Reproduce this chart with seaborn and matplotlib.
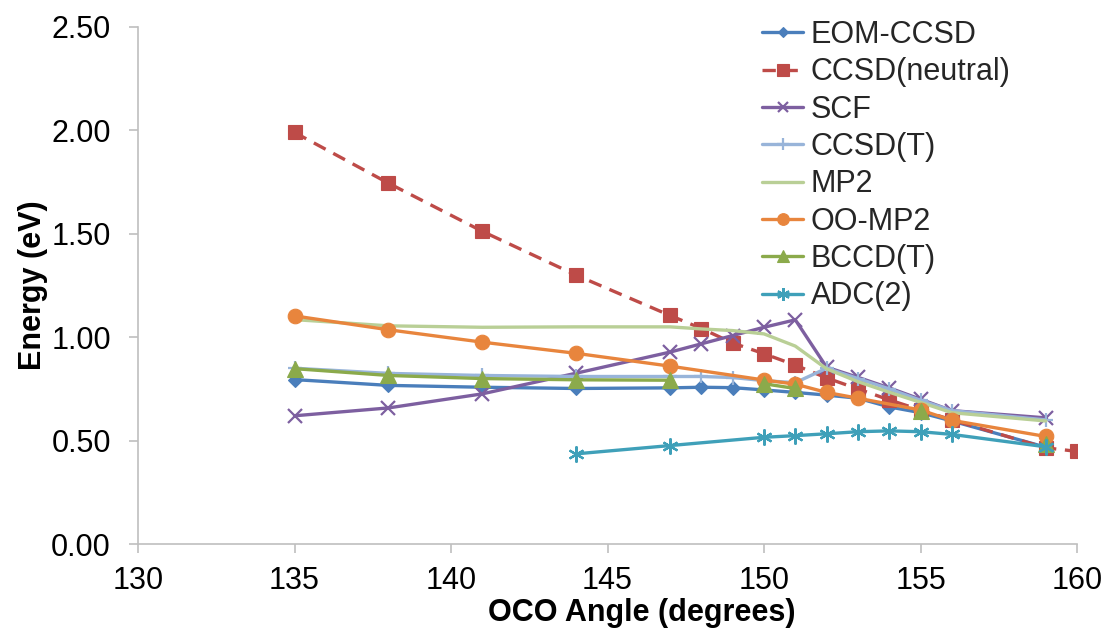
import numpy as np
import pandas as pd
import matplotlib
matplotlib.use("Agg")
import matplotlib.pyplot as plt
import seaborn as sns

# ---------------- data ----------------
series_names = ["EOM-CCSD", "CCSD(neutral)", "SCF", "CCSD(T)", "MP2", "OO-MP2", "BCCD(T)", "ADC(2)"]

eom_x = [135, 138, 141, 144, 147, 148, 149, 150, 151, 152, 153, 154, 155, 156, 159]
eom_y = [0.795, 0.767, 0.758, 0.752, 0.755, 0.758, 0.756, 0.745, 0.733, 0.720, 0.705, 0.663, 0.635, 0.595, 0.468]

ccsdn_x = [135, 138, 141, 144, 147, 148, 149, 150, 151, 152, 153, 154, 155, 156, 159, 160]
ccsdn_y = [1.990, 1.745, 1.512, 1.300, 1.105, 1.042, 0.972, 0.920, 0.865, 0.803, 0.750, 0.697, 0.648, 0.600, 0.465, 0.448]

scf_x = [135, 138, 141, 144, 147, 148, 149, 150, 151, 152, 153, 154, 155, 156, 159]
scf_y = [0.620, 0.658, 0.726, 0.826, 0.928, 0.968, 1.008, 1.048, 1.084, 0.855, 0.806, 0.755, 0.700, 0.645, 0.610]

ccsdt_x = [135, 138, 141, 144, 147, 148, 149, 150, 151, 152, 153, 154, 155, 156, 159]
ccsdt_y = [0.850, 0.825, 0.815, 0.810, 0.810, 0.810, 0.805, 0.790, 0.780, 0.850, 0.800, 0.750, 0.695, 0.645, 0.600]

mp2_x = [135, 138, 141, 144, 147, 148, 149, 150, 151, 152, 153, 154, 155, 156, 159]
mp2_y = [1.085, 1.055, 1.048, 1.050, 1.050, 1.040, 1.032, 1.016, 0.957, 0.847, 0.785, 0.734, 0.685, 0.635, 0.595]

oomp2_x = [135, 138, 141, 144, 147, 150, 151, 152, 153, 155, 156, 159]
oomp2_y = [1.103, 1.036, 0.976, 0.922, 0.860, 0.793, 0.773, 0.733, 0.705, 0.648, 0.598, 0.520]

# NaN marks a missing value (gap in the line)
bccdt_x = [135, 138, 141, 144, 147, 148, 150, 151, 152, 155, 156, 159]
bccdt_y = [0.848, 0.815, 0.800, 0.794, 0.792, np.nan, 0.775, 0.752, np.nan, 0.645, np.nan, 0.484]

adc2_x = [144, 147, 150, 151, 152, 153, 154, 155, 156, 159]
adc2_y = [0.436, 0.476, 0.516, 0.524, 0.533, 0.543, 0.547, 0.543, 0.530, 0.470]

x_ticks = [130, 135, 140, 145, 150, 155, 160]
y_ticks = [0.0, 0.5, 1.0, 1.5, 2.0, 2.5]

data = {
    "EOM-CCSD": (eom_x, eom_y),
    "CCSD(neutral)": (ccsdn_x, ccsdn_y),
    "SCF": (scf_x, scf_y),
    "CCSD(T)": (ccsdt_x, ccsdt_y),
    "MP2": (mp2_x, mp2_y),
    "OO-MP2": (oomp2_x, oomp2_y),
    "BCCD(T)": (bccdt_x, bccdt_y),
    "ADC(2)": (adc2_x, adc2_y),
}

# ---------------- styles ----------------
styles = {
    "EOM-CCSD":      dict(color="#4A7EBB", marker="D", ms=7, ls="-"),
    "CCSD(neutral)": dict(color="#BE4B48", marker="s", ms=10, ls=(0, (4, 2.6))),
    "SCF":           dict(color="#7D5FA0", marker="x", ms=9.5, ls="-"),
    "CCSD(T)":       dict(color="#98B4D9", marker="+", ms=10, ls="-"),
    "MP2":           dict(color="#B9CF96", marker=None, ms=0, ls="-"),
    "OO-MP2":        dict(color="#E8853D", marker="o", ms=10.5, ls="-"),
    "BCCD(T)":       dict(color="#8BAA4B", marker="^", ms=11, ls="-"),
    "ADC(2)":        dict(color="#3FA0B9", marker=(6, 2, 0), ms=11.5, ls="-"),
}

FS = 22

sns.set_theme(style="white")
plt.rcParams["font.family"] = ["Liberation Sans", "DejaVu Sans"]

fig = plt.figure(figsize=(11.07, 6.43), dpi=100)
ax = fig.add_axes([138 / 1107, 1 - 544 / 643, (1077 - 138) / 1107, (544 - 27) / 643])

handles = []
for name in series_names:
    xs, ys = data[name]
    df = pd.DataFrame({"angle": xs, "energy": ys})
    st = styles[name]
    df["seg"] = df["energy"].isna().cumsum()
    df = df.dropna()
    first = True
    for _, part in df.groupby("seg"):
        kw = dict(color=st["color"], linewidth=2.4, linestyle=st["ls"])
        if st["marker"] is not None:
            kw.update(marker=st["marker"], markersize=st["ms"],
                      markeredgecolor=st["color"], markerfacecolor=st["color"],
                      markeredgewidth=1.6 if st["marker"] in ("x", "+", (6, 2, 0)) else 0.8)
        sns.lineplot(data=part, x="angle", y="energy", ax=ax, sort=False,
                     label=name if first else None, legend=False, **kw)
        if first:
            handles.append(ax.lines[-1])
        first = False

ax.set_xlim(130, 160)
ax.set_ylim(0, 2.5)
ax.set_xticks(x_ticks)
ax.set_yticks(y_ticks)
ax.set_yticklabels([f"{v:.2f}" for v in y_ticks])

for side in ("top", "right"):
    ax.spines[side].set_visible(False)
for side in ("left", "bottom"):
    ax.spines[side].set_color("#BFBFBF")
    ax.spines[side].set_linewidth(1.2)

ax.tick_params(axis="both", direction="out", length=6.5, width=1.2, color="#BFBFBF",
               labelsize=FS, labelcolor="black")
ax.tick_params(axis="y", pad=13, left=True)
ax.tick_params(axis="x", pad=9, bottom=True)

ax.set_xlabel("OCO Angle (degrees)", fontsize=FS, fontweight="bold", color="black")
ax.set_ylabel("Energy (eV)", fontsize=FS, fontweight="bold", color="black")
ax.xaxis.set_label_coords((642 - 138) / 939, (544 - 598) / 517)
ax.yaxis.set_label_coords((48 - 138) / 939, 0.5)

ax.legend(handles, series_names, loc="upper left",
          bbox_to_anchor=(762 / 1107, 1 - 20 / 643), bbox_transform=fig.transFigure,
          frameon=False, fontsize=FS, handlelength=1.35, handletextpad=0.25,
          labelspacing=0.24, borderpad=0, borderaxespad=0, markerscale=0.8)

fig.savefig("out.png", dpi=100)
